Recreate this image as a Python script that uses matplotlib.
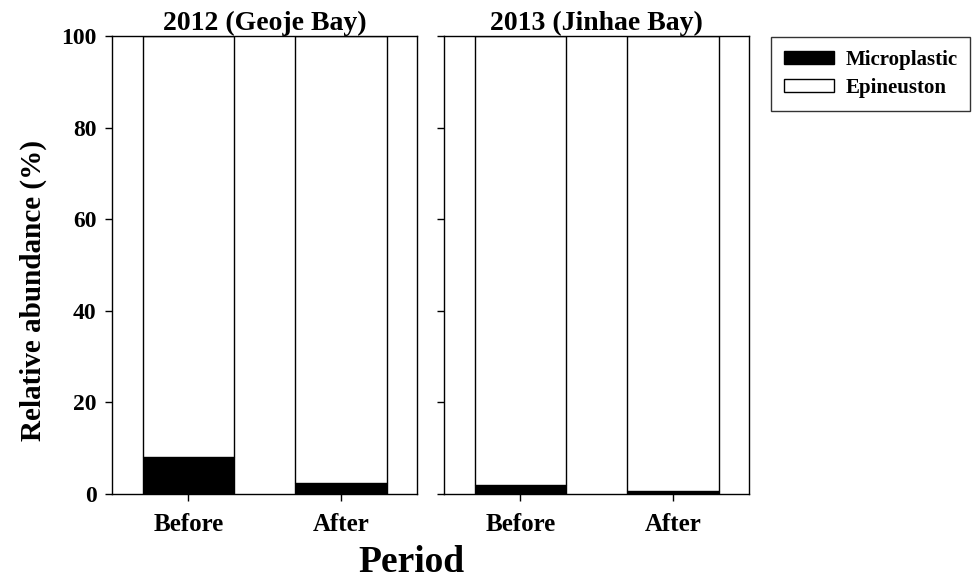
import matplotlib.pyplot as plt
from matplotlib.patches import Patch

plt.rcParams['font.family'] = ['Liberation Serif', 'DejaVu Serif']
plt.rcParams['font.weight'] = 'bold'

periods = ["Before", "After"]
panel_titles = ["2012 (Geoje Bay)", "2013 (Jinhae Bay)"]
# microplastic share (%) per panel, Before / After
microplastic = [
    [8.1, 2.3],
    [1.9, 0.6],
]
yticks = [0, 20, 40, 60, 80, 100]

fig = plt.figure(figsize=(9.74, 5.83), dpi=100)
W, H = 974, 583
lefts = [112, 444]
panel_w = 305
y0, y1 = 494, 36

axes = []
for k, (left, title, mp) in enumerate(zip(lefts, panel_titles, microplastic)):
    ax = fig.add_axes([left / W, (H - y0) / H, panel_w / W, (y0 - y1) / H])
    x = list(range(len(periods)))
    epi = [100 - v for v in mp]
    ax.bar(x, mp, width=0.6, color="black", edgecolor="black", linewidth=1)
    ax.bar(x, epi, bottom=mp, width=0.6, color="white", edgecolor="black", linewidth=1)
    ax.set_xlim(-0.5, 1.5)
    ax.set_ylim(0, 100)
    ax.set_xticks(x)
    ax.set_xticklabels(periods, fontsize=18, fontweight="bold")
    ax.set_yticks(yticks)
    if k == 0:
        ax.set_yticklabels(yticks, fontsize=17, fontweight="bold")
        ax.set_ylabel("Relative abundance (%)", fontsize=21, fontweight="bold")
        ax.yaxis.set_label_coords(-0.213, 0.445)
    else:
        ax.set_yticklabels([])
    ax.tick_params(axis="both", direction="out", length=5, width=1, pad=6)
    ax.tick_params(axis="x", pad=9)
    for s in ax.spines.values():
        s.set_linewidth(1)
    ax.set_title(title, fontsize=20, fontweight="bold", pad=-1)
    axes.append(ax)

fig.text(411 / W, 1 - 563 / H, "Period", ha="center", va="center",
         fontsize=27, fontweight="bold")

handles = [Patch(facecolor="black", edgecolor="black", label="Microplastic"),
           Patch(facecolor="white", edgecolor="black", label="Epineuston")]
leg = fig.legend(handles=handles, loc="upper left", bbox_to_anchor=(771 / W, 1 - 37 / H),
                 fontsize=15, frameon=True, fancybox=False, edgecolor="black",
                 handlelength=2.4, handleheight=0.62, handletextpad=0.55,
                 borderpad=0.62, labelspacing=0.38, borderaxespad=0)
leg.get_frame().set_linewidth(1)

fig.savefig("out.png", dpi=100)
